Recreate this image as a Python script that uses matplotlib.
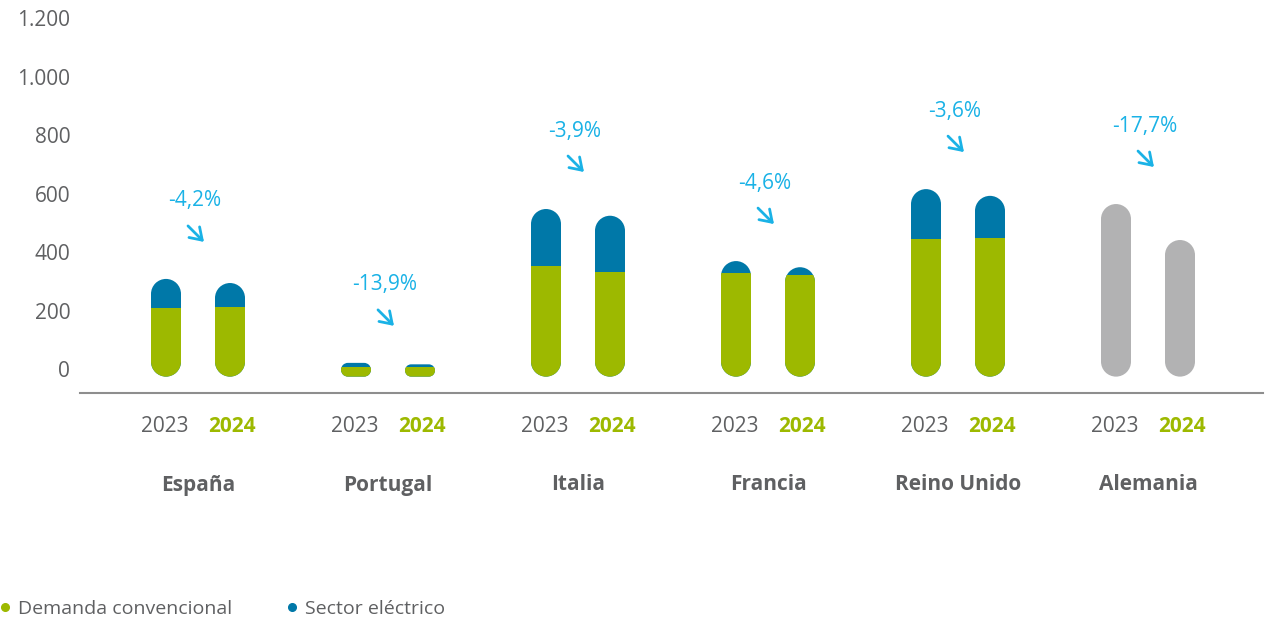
import matplotlib.pyplot as plt
import matplotlib.transforms as mtransforms
from matplotlib.path import Path
from matplotlib.patches import PathPatch, Rectangle
from matplotlib.lines import Line2D

# data
countries = ["España", "Portugal", "Italia", "Francia", "Reino Unido", "Alemania"]
years = ["2023", "2024"]
conv_2023 = [209, 6, 353, 327, 445, None]
conv_2024 = [212, 8, 333, 321, 449, None]
total_2023 = [308, 21, 547, 369, 615, 564]
total_2024 = [294, 16, 524, 348, 592, 441]
changes = ["-4,2%", "-13,9%", "-3,9%", "-4,6%", "-3,6%", "-17,7%"]
yticks = [0, 200, 400, 600, 800, 1000, 1200]

GREEN = "#9db900"
BLUE = "#0078a8"
GREY = "#b2b2b3"
CYAN = "#1ab2e6"
TEXT = "#5f6062"

plt.rcParams['font.family'] = ['Open Sans', 'DejaVu Sans']

W, H = 1268, 619
fig = plt.figure(figsize=(W / 100, H / 100), dpi=100)
left_px, right_px, top_px, bottom_px = 80, 1263, 18, 393
ax = fig.add_axes([left_px / W, 1 - bottom_px / H,
                   (right_px - left_px) / W, (bottom_px - top_px) / H])

# x: group centre every 190 px, first at 198 px
ax.set_xlim((left_px - 198) / 190, (right_px - 198) / 190)
ax.set_ylim(-82, 1200)

xpp = 1 / 190.0                    # x units per pixel
ypp = 1282 / (bottom_px - top_px)  # y units per pixel
ky = ypp / xpp

half_w = 15 * xpp
offset = 32 * xpp
floor = -26


def pill(xc, y0, y1):
    rx = min(half_w, (y1 - y0) / ky / 2)
    ry = rx * ky
    corners = [((xc + half_w - rx, y0 + ry), 270, 360),
               ((xc + half_w - rx, y1 - ry), 0, 90),
               ((xc - half_w + rx, y1 - ry), 90, 180),
               ((xc - half_w + rx, y0 + ry), 180, 270)]
    verts, codes = [], []
    for (cx, cy), t1, t2 in corners:
        a = Path.arc(t1, t2)
        v = a.vertices * [rx, ry] + [cx, cy]
        c = list(a.codes)
        if verts:
            c[0] = Path.LINETO
        verts.extend(v.tolist())
        codes.extend(c)
    verts.append(verts[0])
    codes.append(Path.CLOSEPOLY)
    return Path(verts, codes)


# arrow head sits 6 px right and 37 px above the top of the 2023 bar
head_tr = mtransforms.offset_copy(ax.transData, fig=fig, x=6, y=37, units='dots')

for i, name in enumerate(countries):
    for j, (conv, tot) in enumerate([(conv_2023[i], total_2023[i]),
                                     (conv_2024[i], total_2024[i])]):
        xc = i - offset if j == 0 else i + offset
        base = GREY if conv is None else BLUE
        p = PathPatch(pill(xc, floor, tot), facecolor=base, edgecolor='none')
        ax.add_patch(p)
        if conv is not None:
            r = Rectangle((xc - half_w * 1.2, floor - 50), half_w * 2.4,
                          conv - floor + 50, facecolor=GREEN, edgecolor='none')
            ax.add_patch(r)
            r.set_clip_path(p)
        # year labels
        ax.annotate(years[j], xy=(xc, 0), xycoords=ax.get_xaxis_transform(),
                    xytext=(-1 if j == 0 else 2, -33), textcoords='offset pixels',
                    ha='center', va='center', fontsize=15,
                    color=TEXT if j == 0 else GREEN,
                    fontweight='normal' if j == 0 else 'bold')
    ax.annotate(name, xy=(i, 0), xycoords=ax.get_xaxis_transform(),
                xytext=(0, -92), textcoords='offset pixels',
                ha='center', va='center', fontsize=15, fontweight='bold',
                color=TEXT)
    # change label and arrow
    ax.annotate(changes[i], xy=(i, total_2023[i]), xytext=(-3, 78),
                textcoords='offset pixels', ha='center', va='center',
                fontsize=15, color=CYAN)
    ax.annotate('', xy=(i, total_2023[i]), xycoords=head_tr,
                xytext=(-16, 16), textcoords='offset pixels',
                arrowprops=dict(arrowstyle='->,head_length=0.45,head_width=0.3',
                                color=CYAN, lw=2, shrinkA=0, shrinkB=0,
                                mutation_scale=18))

ax.set_yticks(yticks)
ax.set_yticklabels([f"{v:,}".replace(",", ".") for v in yticks])
ax.tick_params(axis='y', length=0, pad=7, labelsize=15, labelcolor=TEXT)
ax.set_xticks([])
for s in ['left', 'right', 'top']:
    ax.spines[s].set_visible(False)
ax.spines['bottom'].set_color('#8e8e8e')
ax.spines['bottom'].set_linewidth(1.5)

handles = [Line2D([], [], marker='o', ls='none', color=GREEN, markersize=5.5),
           Line2D([], [], marker='o', ls='none', color=BLUE, markersize=5.5)]
fig.legend(handles, ["Demanda convencional", "Sector eléctrico"],
           loc='center left', bbox_to_anchor=(0, 1 - 609 / H), ncol=2,
           frameon=False, fontsize=14, handlelength=0.5, handletextpad=0.4,
           columnspacing=2.85, borderpad=0, borderaxespad=0,
           labelcolor=TEXT)

fig.savefig("out.png", dpi=100)
